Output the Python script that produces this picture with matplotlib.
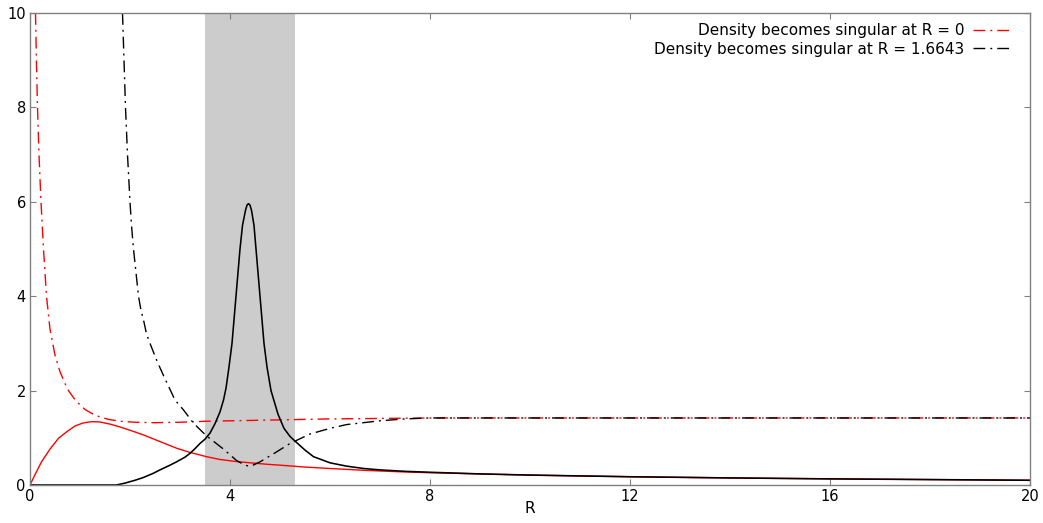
import numpy as np
import matplotlib
matplotlib.use("Agg")
import matplotlib.pyplot as plt

# red solid curve (no legend entry)
R_red_solid = [0, 0.1, 0.23, 0.4, 0.57, 0.75, 0.9, 1.05, 1.15, 1.23, 1.32, 1.4, 1.6, 1.8, 2.0, 2.27, 2.6,
               2.93, 3.2, 3.53, 3.8, 4.1, 4.4, 4.73, 5.0, 5.5, 6.0, 6.7, 7.4, 8.0, 9, 10,
               12, 14, 16, 18, 20]
v_red_solid = [0, 0.22, 0.49, 0.76, 0.99, 1.14, 1.25, 1.31, 1.33, 1.34, 1.34, 1.335, 1.29, 1.23, 1.16, 1.06, 0.92,
               0.78, 0.69, 0.6, 0.54, 0.5, 0.47, 0.44, 0.42, 0.38, 0.35, 0.31, 0.28, 0.26, 0.235, 0.21,
               0.175, 0.15, 0.13, 0.115, 0.1]

# red dash-dot: density singular at R = 0
R_red_dd = [0.11, 0.13, 0.15, 0.18, 0.22, 0.27, 0.33, 0.4, 0.5, 0.6, 0.7, 0.77, 0.87, 0.97, 1.1,
            1.23, 1.4, 1.57, 1.8, 2.1, 2.5, 3.0, 3.5, 4.0, 5.0, 6.0, 7.0, 8.0, 20]
v_red_dd = [10, 8.9, 8.0, 7.0, 6.0, 5.0, 4.0, 3.3, 2.75, 2.4, 2.15, 2.0, 1.85, 1.73, 1.6,
            1.52, 1.44, 1.39, 1.35, 1.33, 1.32, 1.33, 1.35, 1.36, 1.38, 1.40, 1.41, 1.42, 1.42]

# black solid curve (no legend entry)
R_blk_solid = [0, 1.73, 1.9, 2.1, 2.27, 2.45, 2.6, 2.8, 2.93, 3.1, 3.2, 3.3, 3.4, 3.5, 3.6,
               3.7, 3.8, 3.87, 3.92, 3.98, 4.04, 4.08, 4.12, 4.16, 4.2, 4.25, 4.31, 4.34, 4.37,
               4.40, 4.43, 4.48, 4.52, 4.56, 4.6, 4.64, 4.68, 4.74, 4.82, 4.96, 5.08, 5.2, 5.3,
               5.5, 5.67, 6.0, 6.33, 6.67, 7.0, 7.5, 8.0, 9, 10, 12, 14, 16, 18, 20]
v_blk_solid = [0, 0, 0.04, 0.1, 0.16, 0.24, 0.32, 0.42, 0.49, 0.59, 0.67, 0.77, 0.88, 0.97, 1.1,
               1.3, 1.55, 1.8, 2.05, 2.5, 3.0, 3.5, 4.0, 4.5, 5.0, 5.5, 5.82, 5.93, 5.96,
               5.93, 5.82, 5.5, 5.0, 4.5, 4.0, 3.5, 3.0, 2.5, 2.0, 1.5, 1.2, 1.03, 0.93,
               0.74, 0.6, 0.47, 0.4, 0.35, 0.32, 0.29, 0.27, 0.235, 0.21, 0.175, 0.15, 0.13, 0.115, 0.1]

# black dash-dot: density singular at R = 1.6643
R_blk_dd = [1.85, 1.88, 1.91, 1.95, 2.0, 2.03, 2.07, 2.12, 2.17, 2.22, 2.28, 2.33, 2.4, 2.55, 2.7,
            2.9, 3.07, 3.27, 3.52, 3.87, 4.13, 4.28, 4.37, 4.46, 4.6, 4.93, 5.2, 5.6, 6.0, 6.33,
            7.0, 7.5, 8.0, 20]
v_blk_dd = [10, 9.0, 8.0, 7.0, 6.0, 5.5, 5.0, 4.5, 4.0, 3.7, 3.45, 3.2, 3.0, 2.6, 2.25,
            1.8, 1.59, 1.31, 1.05, 0.76, 0.52, 0.43, 0.40, 0.42, 0.49, 0.7, 0.88, 1.08, 1.2, 1.28,
            1.36, 1.40, 1.42, 1.42]

band = [3.5, 5.3]
xticks = [0, 4, 8, 12, 16, 20]
yticks = [0, 2, 4, 6, 8, 10]
labels = ["Density becomes singular at R = 0", "Density becomes singular at R = 1.6643"]

plt.rcParams['font.family'] = ['DejaVu Sans']
fig = plt.figure(figsize=(10.43, 5.23), dpi=100)
ax = fig.add_axes([30 / 1043, 38 / 523, 1000 / 1043, 472 / 523])

dd = (0, (8.5, 3.6, 1.4, 3.6))
ax.axvspan(band[0], band[1], color='#cccccc', lw=0, zorder=0)
ax.plot(R_red_solid, v_red_solid, color='#ff0000', lw=1.0)
ax.plot(R_red_dd, v_red_dd, color='#ff0000', lw=1.0, ls=dd, label=labels[0])
ax.plot(R_blk_solid, v_blk_solid, color='black', lw=1.15)
ax.plot(R_blk_dd, v_blk_dd, color='black', lw=1.0, ls=dd, label=labels[1])

ax.set_xlim(0, 20)
ax.set_ylim(0, 10)
ax.set_xticks(xticks)
ax.set_yticks(yticks)
ax.tick_params(direction='in', top=True, right=True, length=4, width=0.8, color='#808080',
               labelsize=10.5, pad=3)
for s in ax.spines.values():
    s.set_color('#808080')
    s.set_linewidth(1.0)
ax.set_xlabel('R', fontsize=11, labelpad=-2)

ax.legend(loc='upper right', bbox_to_anchor=(0.989, 0.992), frameon=False, markerfirst=False,
          fontsize=11, handlelength=2.6, handletextpad=0.6, labelspacing=0.25,
          borderaxespad=0, alignment='right')

fig.savefig('out.png', dpi=100)
